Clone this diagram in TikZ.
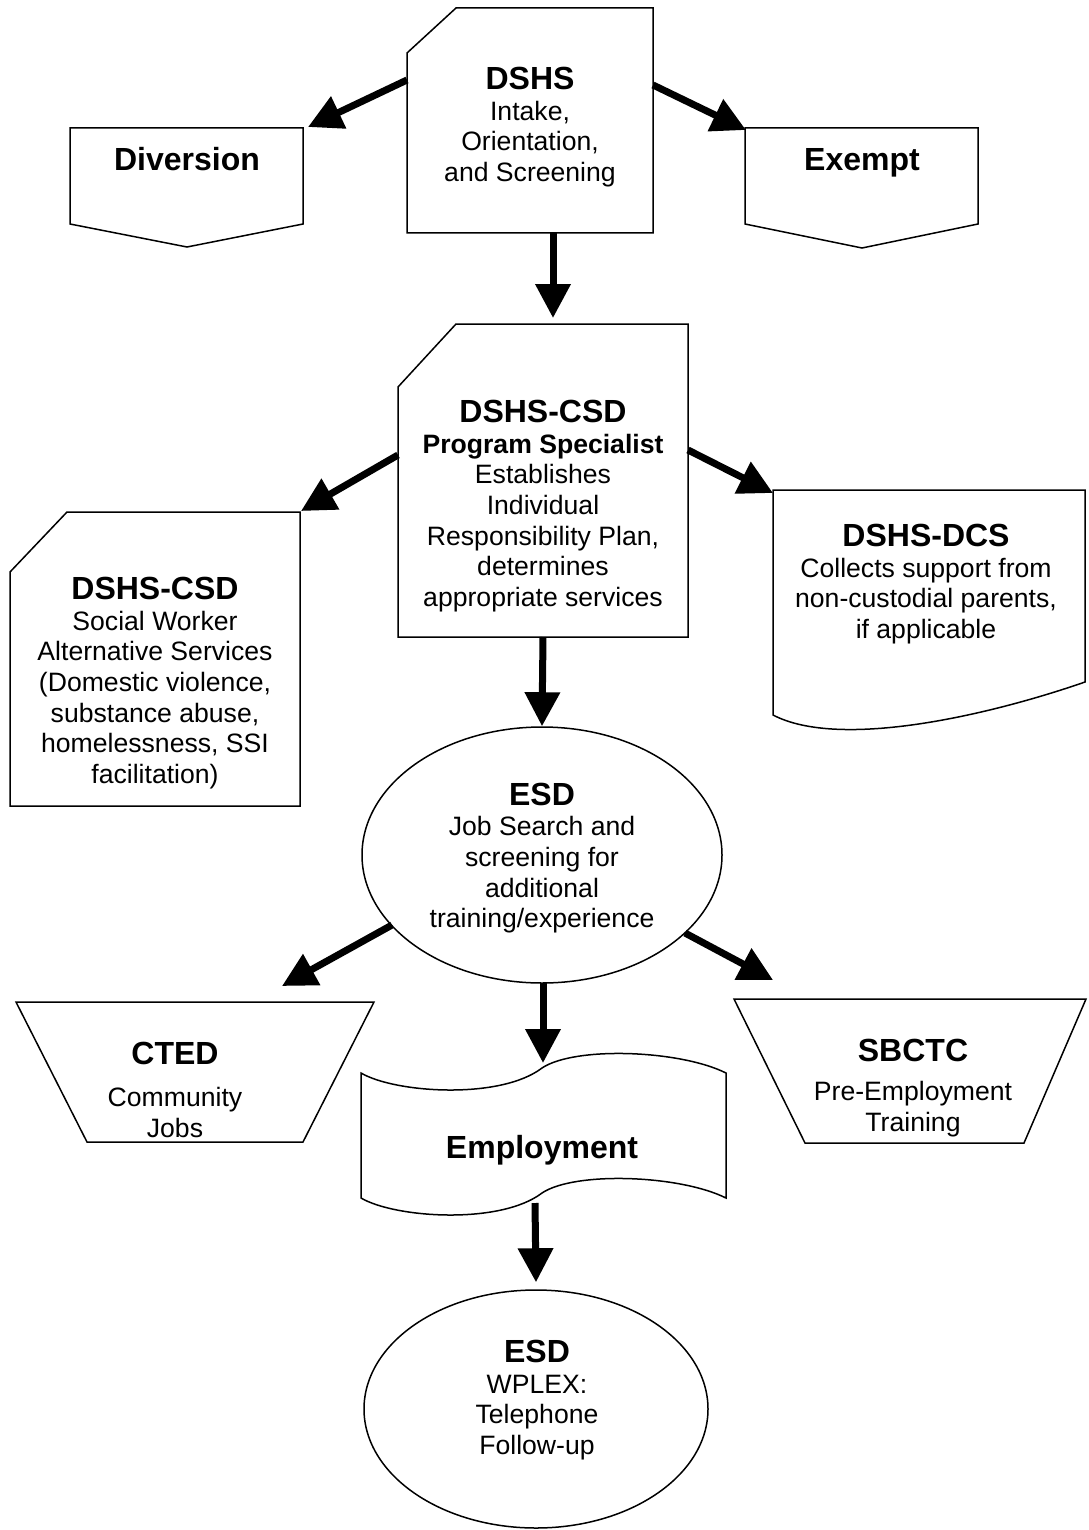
\documentclass[tikz,border=0pt]{standalone}
\usepackage{fontspec}
\setmainfont{Liberation Sans}
\usetikzlibrary{arrows.meta, shapes.geometric}

\newcommand{\hd}[1]{{\fontsize{16}{15.3}\selectfont\bfseries #1}}

\begin{document}
\begin{tikzpicture}[
    x=0.5pt, y=-0.5pt,
    outline/.style={draw, line width=0.75pt, line join=miter},
    txt/.style={align=center, inner sep=0pt, font=\fontsize{13.3}{15.3}\selectfont},
    oval/.style={ellipse, draw, line width=0.75pt, inner sep=0pt},
    arrow/.style={-{Triangle[length=17pt, width=17pt]}, line width=3.5pt}
]
\useasboundingbox (0,0) rectangle (1088,1530);

% Row 1: DSHS intake
\draw[outline] (407,53) -- (456,8) -- (653,8) -- (653,233) -- (407,233) -- cycle;
\node[txt] (dshs) at (530,127) {\hd{DSHS}\\ Intake,\\ Orientation,\\ and Screening};
\draw[outline] (70,128) -- (303,128) -- (303,224) -- (187,247) -- (70,224) -- cycle;
\node[txt, anchor=base] (diversion) at (187,171) {\hd{Diversion}};
\draw[outline] (745,128) -- (978,128) -- (978,224) -- (862,248) -- (745,224) -- cycle;
\node[txt, anchor=base] (exempt) at (862,171) {\hd{Exempt}};

\coordinate (dshs-w) at (407,80);
\coordinate (dshs-e) at (653,85);
\coordinate (dshs-s) at (553,233);
\coordinate (div-ne) at (308,127);
\coordinate (ex-nw) at (746,130);

% Row 2: program specialist
\draw[outline] (398,387) -- (456,324) -- (688,324) -- (688,637) -- (398,637) -- cycle;
\node[txt] (csd) at (543,506) {\hd{DSHS-CSD}\\ \textbf{Program Specialist}\\ Establishes\\ Individual\\ Responsibility Plan,\\ determines\\ appropriate services};
\draw[outline] (10,572) -- (67,512) -- (300,512) -- (300,806) -- (10,806) -- cycle;
\node[txt] (social) at (155,683) {\hd{DSHS-CSD}\\ Social Worker\\ Alternative Services\\ (Domestic violence,\\ substance abuse,\\ homelessness, SSI\\ facilitation)};
\draw[outline] (773,490) -- (1085,490) -- (1085,682) .. controls (990,715) and (840,750) .. (773,715) -- cycle;
\node[txt] (dcs) at (926,584) {\hd{DSHS-DCS}\\ Collects support from\\ non-custodial parents,\\ if applicable};

\coordinate (csd-n) at (553,318);
\coordinate (csd-w) at (398,455);
\coordinate (csd-e) at (688,450);
\coordinate (csd-s) at (543,637);
\coordinate (social-ne) at (301,511);
\coordinate (dcs-nw) at (773,493);

% Row 3: job search
\node[oval, minimum width=180pt, minimum height=128pt] (esd) at (542,855) {};
\node[txt] (esd-t) at (542,858) {\hd{ESD}\\ Job Search and\\ screening for\\ additional\\ training/experience};

\coordinate (esd-w) at (392,925);
\coordinate (esd-e) at (685,933);
\coordinate (esd-s) at (543,983);

% Row 4: training and employment
\draw[outline] (16,1002) -- (374,1002) -- (303,1142) -- (87,1142) -- cycle;
\node[txt] (cted) at (175,1090) {\hd{CTED}\\[5.5pt] Community\\ Jobs};
\draw[outline] (734,999) -- (1086,999) -- (1024,1143) -- (805,1143) -- cycle;
\node[txt] (sbctc) at (913,1088) {\hd{SBCTC}\\[4.5pt] Pre-Employment\\ Training};
\draw[outline] (361,1073) .. controls (395,1093) and (500,1100) .. (542,1068)
    .. controls (575,1046) and (680,1050) .. (726,1073) -- (726,1198)
    .. controls (680,1175) and (575,1171) .. (542,1193)
    .. controls (500,1225) and (395,1218) .. (361,1198) -- cycle;
\node[txt, anchor=base] (employ) at (542,1158) {\hd{Employment}};

\coordinate (cted-ne) at (282,986);
\coordinate (sbctc-nw) at (773,980);
\coordinate (employ-n) at (543,1063);
\coordinate (employ-s) at (535,1203);

% Row 5: follow-up
\node[oval, minimum width=172pt, minimum height=119pt] (wplex) at (536,1409) {};
\node[txt] (wplex-t) at (537,1400) {\hd{ESD}\\ WPLEX:\\ Telephone\\ Follow-up};

% Arrows
\draw[arrow] (dshs-w) -- (div-ne);
\draw[arrow] (dshs-e) -- (ex-nw);
\draw[arrow] (dshs-s) -- (csd-n);
\draw[arrow] (csd-w) -- (social-ne);
\draw[arrow] (csd-e) -- (dcs-nw);
\draw[arrow] (csd-s) -- (esd.north);
\draw[arrow] (esd-w) -- (cted-ne);
\draw[arrow] (esd-e) -- (sbctc-nw);
\draw[arrow] (esd-s) -- (employ-n);
\draw[arrow] (employ-s) -- ([yshift=3.5pt]wplex.north);

\end{tikzpicture}
\end{document}
